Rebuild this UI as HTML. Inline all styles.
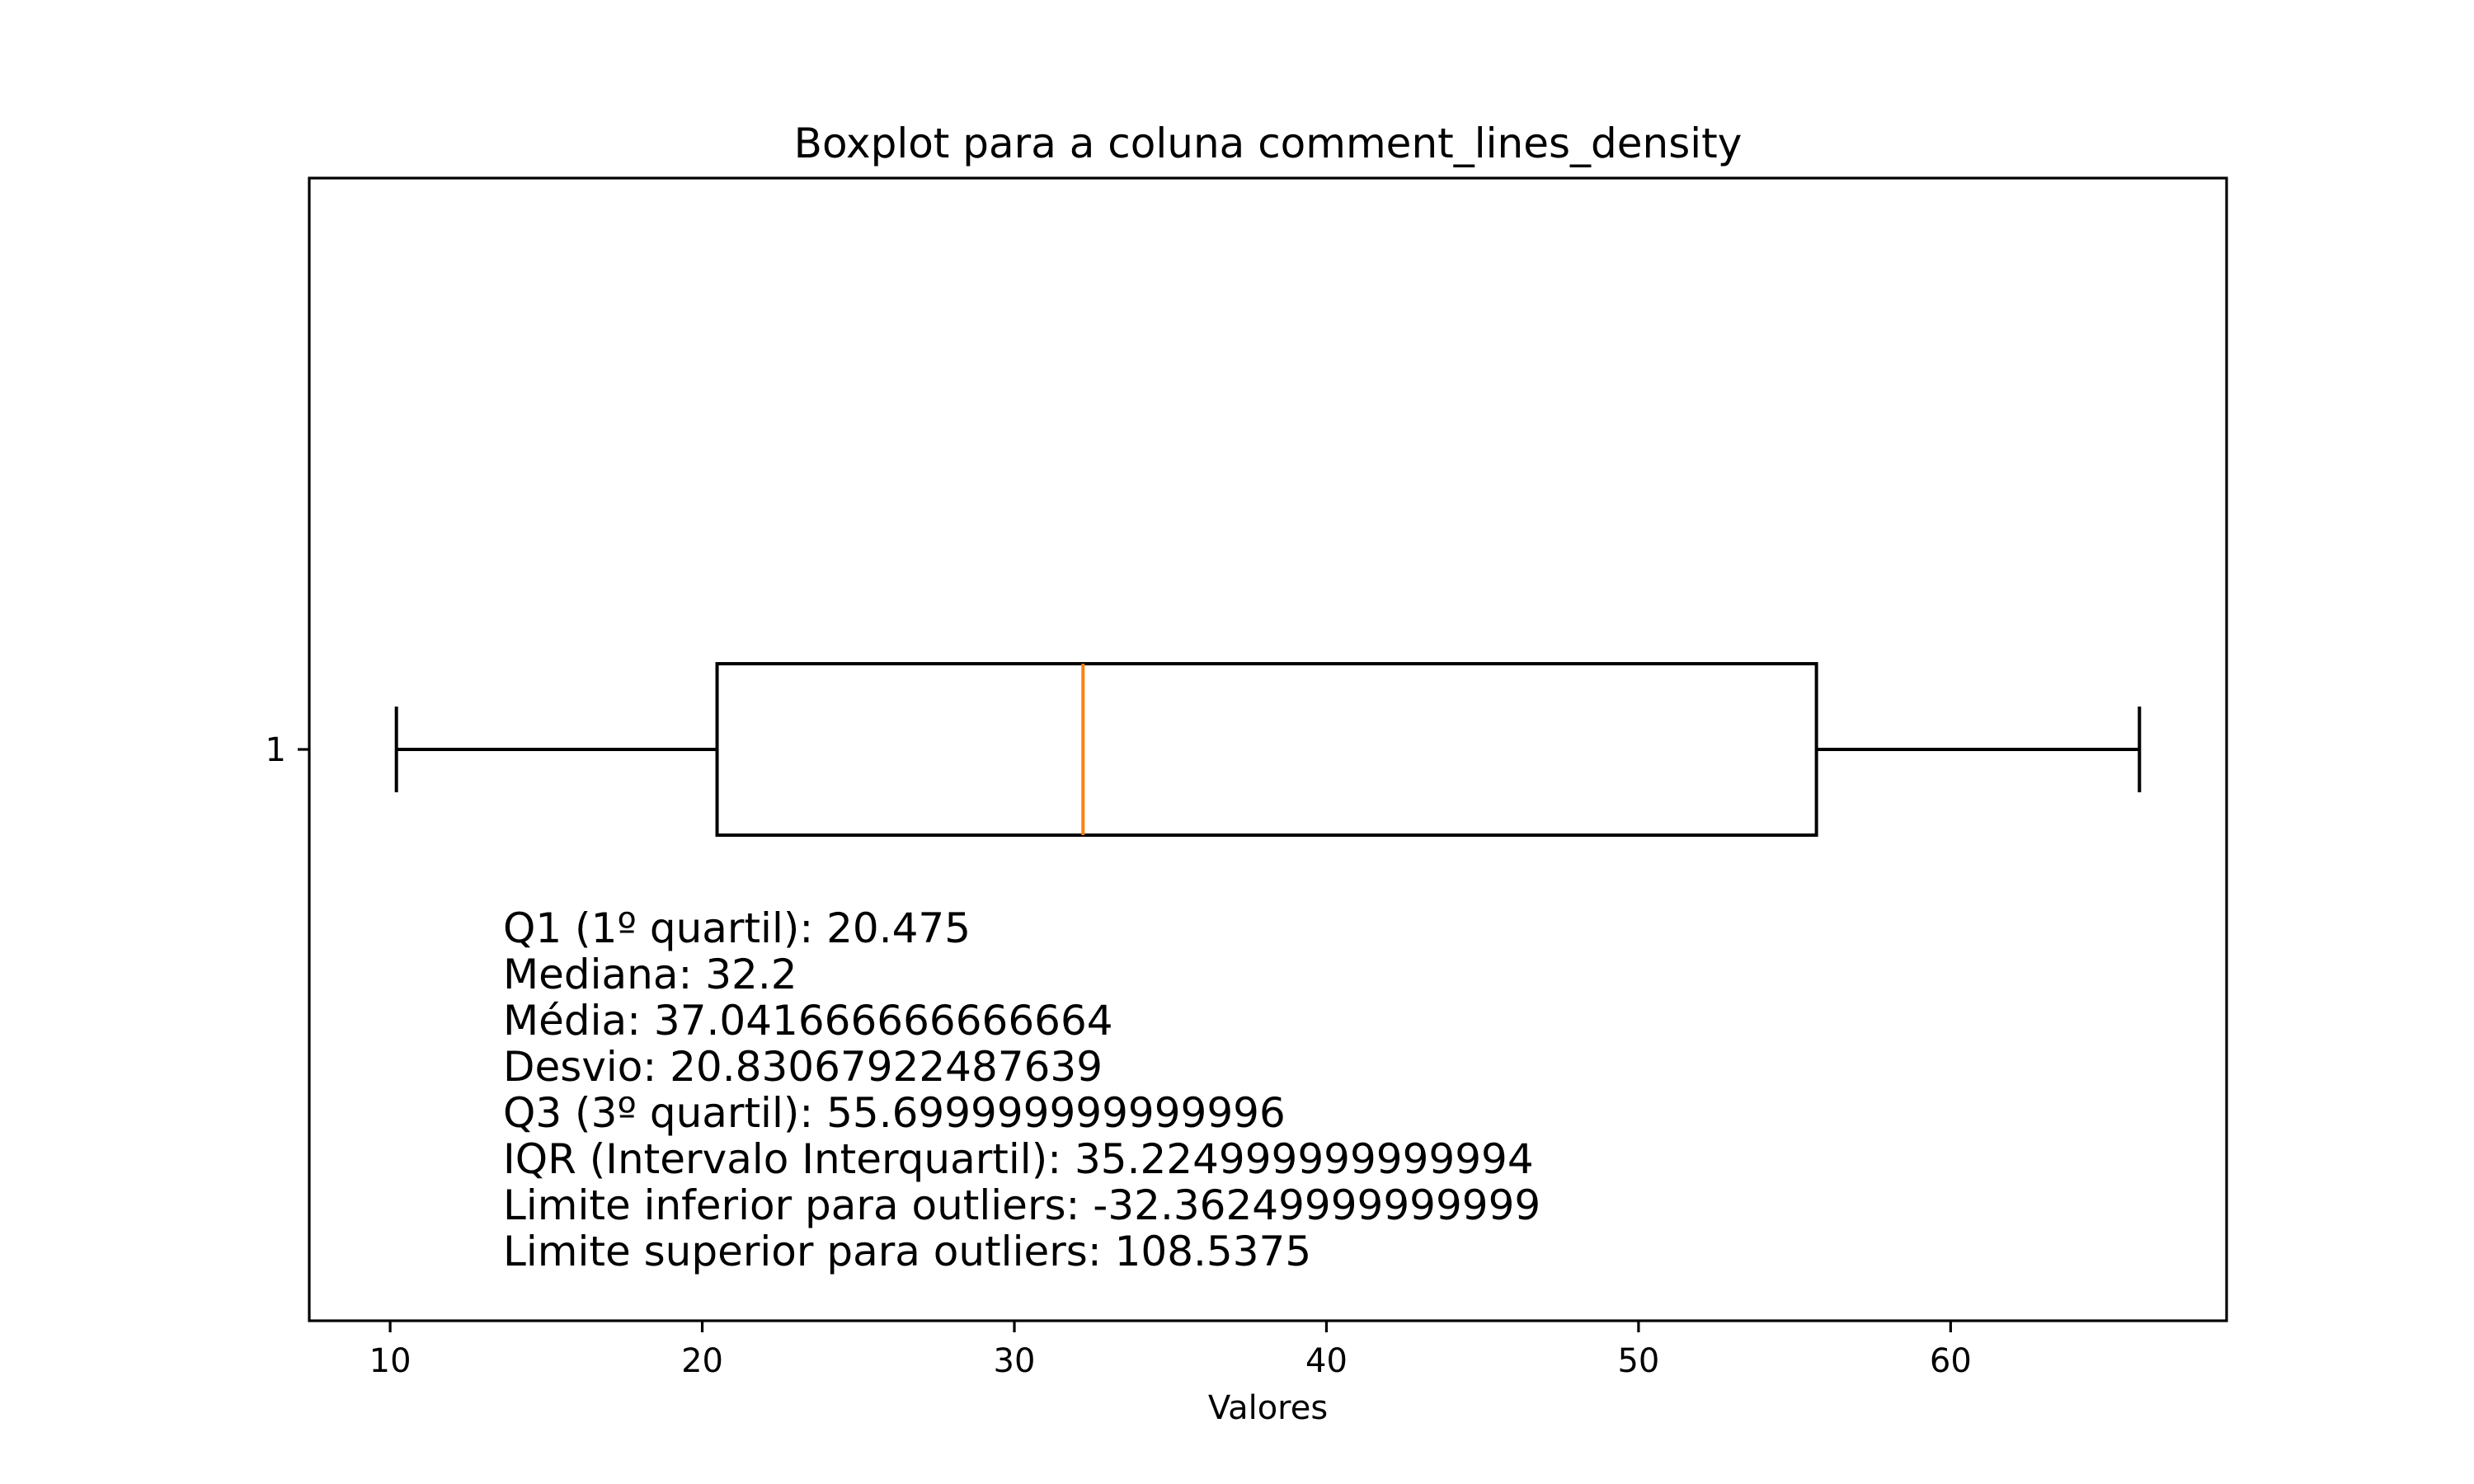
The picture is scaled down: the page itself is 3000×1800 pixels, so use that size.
<!DOCTYPE html>
<html><head><meta charset="utf-8"><style>
html,body{margin:0;padding:0;background:#fff;}
svg{display:block;font-family:"DejaVu Sans","Liberation Sans",sans-serif;}
</style></head><body>
<svg id="chart" width="3000" height="1800" viewBox="0 0 3000 1800" xmlns="http://www.w3.org/2000/svg">
<rect width="3000" height="1800" fill="#fff"/>
<g id="plot"></g>
</svg>
<script>
const xTicks = [10, 20, 30, 40, 50, 60];
const whiskerLow = [10.2];
const q1 = [20.475];
const median = [32.2];
const q3 = [55.7];
const whiskerHigh = [66.05];
const categories = ["1"];
const statLines = [
 "Q1 (1º quartil): 20.475",
 "Mediana: 32.2",
 "Média: 37.041666666666664",
 "Desvio: 20.83067922487639",
 "Q3 (3º quartil): 55.699999999999996",
 "IQR (Intervalo Interquartil): 35.224999999999994",
 "Limite inferior para outliers: -32.36249999999999",
 "Limite superior para outliers: 108.5375"
];

const NS = "http://www.w3.org/2000/svg";
const g = document.getElementById('plot');
const L = 375, R = 2700, T = 216, B = 1602;
const dmin = Math.min(...whiskerLow), dmax = Math.max(...whiskerHigh);
const pad = (dmax - dmin) * 0.05;
const xmin = dmin - pad, xmax = dmax + pad;
const xs = v => L + (v - xmin) / (xmax - xmin) * (R - L);
const ys = v => B - (v - 0.5) / 1.0 * (B - T);

function el(tag, attrs, parent) {
  const e = document.createElementNS(NS, tag);
  for (const k in attrs) e.setAttribute(k, attrs[k]);
  (parent || g).appendChild(e);
  return e;
}

let t = el('text', {x: (L + R) / 2, y: 191, 'font-size': 50, 'text-anchor': 'middle', fill: '#000'});
t.textContent = 'Boxplot para a coluna comment_lines_density';



categories.forEach((c, i) => {
  const yc = ys(i + 1);
  const hb = 0.075 * (B - T), hc = 0.0375 * (B - T);
  const sty = {stroke: '#000', 'stroke-width': 4, fill: 'none'};
  let w1 = el('line', Object.assign({x1: xs(whiskerLow[i]), x2: xs(q1[i]), y1: yc, y2: yc}, sty));
  
  
  let w2 = el('line', Object.assign({x1: xs(q3[i]), x2: xs(whiskerHigh[i]), y1: yc, y2: yc}, sty));
  
  
  let c1 = el('line', Object.assign({x1: xs(whiskerLow[i]), x2: xs(whiskerLow[i]), y1: yc - hc, y2: yc + hc}, sty));
  
  
  let c2 = el('line', Object.assign({x1: xs(whiskerHigh[i]), x2: xs(whiskerHigh[i]), y1: yc - hc, y2: yc + hc}, sty));
  
  
  let bx = el('rect', Object.assign({x: xs(q1[i]), y: yc - hb, width: xs(q3[i]) - xs(q1[i]), height: 2 * hb}, sty));
  
  
  let md = el('line', {x1: xs(median[i]), x2: xs(median[i]), y1: yc - hb, y2: yc + hb, stroke: '#ff7f0e', 'stroke-width': 4});
  
  
  let tk = el('line', {x1: L - 14, x2: L, y1: yc, y2: yc, stroke: '#000', 'stroke-width': 3.2});
  
  
  let tl = el('text', {x: L - 28, y: yc + 14, 'font-size': 40, 'text-anchor': 'end'});
  tl.textContent = c;
  
  
});

xTicks.forEach(v => {
  let tk = el('line', {x1: xs(v), x2: xs(v), y1: B, y2: B + 14, stroke: '#000', 'stroke-width': 3.2});
  
  
  let tl = el('text', {x: xs(v), y: 1664, 'font-size': 40, 'text-anchor': 'middle'});
  tl.textContent = v;
  
  
});

let fr = el('rect', {x: L, y: T, width: R - L, height: B - T, fill: 'none', stroke: '#000', 'stroke-width': 3.2});



let xl = el('text', {x: (L + R) / 2, y: 1721, 'font-size': 40, 'text-anchor': 'middle'});
xl.textContent = 'Valores';



statLines.forEach((s, i) => {
  let st = el('text', {x: 610, y: 1143 + i * 56, 'font-size': 50});
  st.textContent = s;
  
  
});
</script>
</body></html>
